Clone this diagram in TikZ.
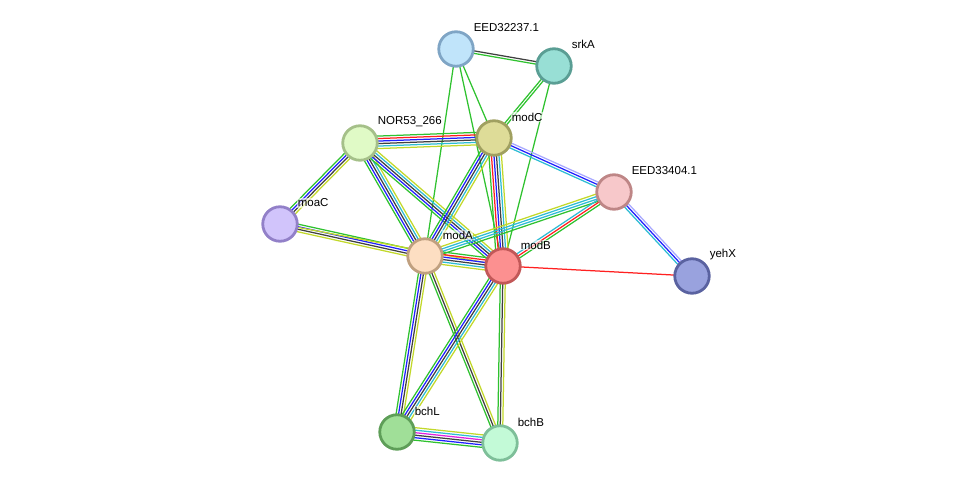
\documentclass[tikz,border=0pt]{standalone}
\usepackage{fontspec}
\setmainfont{Liberation Sans}
\usetikzlibrary{calc}
\pgfdeclarelayer{bg}
\pgfsetlayers{bg,main}
\definecolor{gn}{HTML}{2FC22F}
\definecolor{rd}{HTML}{FF2020}
\definecolor{bl}{HTML}{2020FF}
\definecolor{bk}{HTML}{404040}
\definecolor{cy}{HTML}{2EBCD4}
\definecolor{yg}{HTML}{C2D82A}
\definecolor{mg}{HTML}{E020E0}
\definecolor{lv}{HTML}{A8A8FF}
\definecolor{f1}{HTML}{C0E4FA}\definecolor{d1}{HTML}{7FA5C5}
\definecolor{f2}{HTML}{98DFD5}\definecolor{d2}{HTML}{5A9E94}
\definecolor{f3}{HTML}{DEDC98}\definecolor{d3}{HTML}{A0A060}
\definecolor{f4}{HTML}{E0FAC6}\definecolor{d4}{HTML}{A5C089}
\definecolor{f5}{HTML}{F7C8CA}\definecolor{d5}{HTML}{BE8686}
\definecolor{f6}{HTML}{D1C4FB}\definecolor{d6}{HTML}{9280C8}
\definecolor{f7}{HTML}{FDDEC2}\definecolor{d7}{HTML}{C0A080}
\definecolor{f8}{HTML}{FC9090}\definecolor{d8}{HTML}{C25858}
\definecolor{f9}{HTML}{99A2DE}\definecolor{d9}{HTML}{5A62A0}
\definecolor{f10}{HTML}{A0DF98}\definecolor{d10}{HTML}{5E9E58}
\definecolor{f11}{HTML}{C3FAD7}\definecolor{d11}{HTML}{7EBF99}
\tikzset{
  prot/.style 2 args={circle, minimum size=34.5pt, inner sep=0pt, line width=2.8pt, fill=#1, draw=#2},
  lab/.style={anchor=west, font=\fontsize{11.5}{12}\selectfont, inner sep=0.6pt, fill=white, fill opacity=0.6, text opacity=1},
  ed/.style={line width=1.25pt}
}
\newcommand\medge[4]{%
  \foreach \col [count=\i] in {#4} {
    \pgfmathsetmacro\off{(\i-(#3+1)/2)*2.5}
    \draw[ed, \col] ($(#1)!\off pt!90:(#2)$) -- ($(#2)!\off pt!-90:(#1)$);
  }}
\begin{document}
\begin{tikzpicture}[x=1pt,y=-1pt]
\useasboundingbox (0,0) rectangle (976,489);
\node[prot={f1}{d1}] (eed32) at (456,49) {};
\node[prot={f2}{d2}] (srkA) at (554,66) {};
\node[prot={f3}{d3}] (modC) at (494,138) {};
\node[prot={f4}{d4}] (nor) at (360,143) {};
\node[prot={f5}{d5}] (eed33) at (614,192) {};
\node[prot={f6}{d6}] (moaC) at (280,224) {};
\node[prot={f7}{d7}] (modA) at (425,256) {};
\node[prot={f8}{d8}] (modB) at (503,266) {};
\node[prot={f9}{d9}] (yehX) at (692,276) {};
\node[prot={f10}{d10}] (bchL) at (397,432) {};
\node[prot={f11}{d11}] (bchB) at (500,443) {};

\node[lab] at (473,28) {EED32237.1};
\node[lab] at (571,44) {srkA};
\node[lab] at (511,117) {modC};
\node[lab] at (377,122) {NOR53\_266};
\node[lab] at (631,171) {EED33404.1};
\node[lab] at (297,203) {moaC};
\node[lab] at (442,235) {modA};
\node[lab] at (520,245) {modB};
\node[lab] at (709,255) {yehX};
\node[lab] at (414,411) {bchL};
\node[lab] at (517,422) {bchB};

\begin{pgfonlayer}{bg}
\medge{eed32}{srkA}{2}{gn,bk}
\medge{eed32}{modC}{1}{gn}
\medge{eed32}{modA}{1}{gn}
\medge{eed32}{modB}{1}{gn}
\medge{srkA}{modC}{2}{gn,gn}
\medge{srkA}{modB}{1}{gn}
\medge{nor}{modC}{6}{yg,cy,bk,bl,rd,gn}
\medge{nor}{moaC}{4}{gn,bl,bk,yg}
\medge{nor}{modA}{5}{gn,bl,bk,cy,yg}
\medge{nor}{modB}{5}{gn,bl,bk,cy,yg}
\medge{modC}{modA}{5}{gn,bl,bk,cy,yg}
\medge{modC}{modB}{6}{gn,rd,bl,bk,cy,yg}
\medge{modC}{eed33}{3}{cy,bl,lv}
\medge{eed33}{modA}{4}{yg,cy,cy,gn}
\medge{eed33}{modB}{3}{cy,rd,gn}
\medge{eed33}{yehX}{3}{cy,bl,lv}
\medge{modB}{yehX}{1}{rd}
\medge{moaC}{modA}{4}{yg,bk,bl,gn}
\medge{moaC}{modB}{1}{yg}
\medge{modA}{modB}{6}{yg,cy,bk,bl,rd,gn}
\medge{modA}{bchL}{4}{gn,bl,bk,yg}
\medge{modA}{bchB}{3}{gn,bk,yg}
\medge{modB}{bchL}{5}{gn,bl,bk,cy,yg}
\medge{modB}{bchB}{3}{gn,bk,yg}
\medge{bchL}{bchB}{6}{gn,bl,bk,mg,cy,yg}
\end{pgfonlayer}
\end{tikzpicture}
\end{document}
